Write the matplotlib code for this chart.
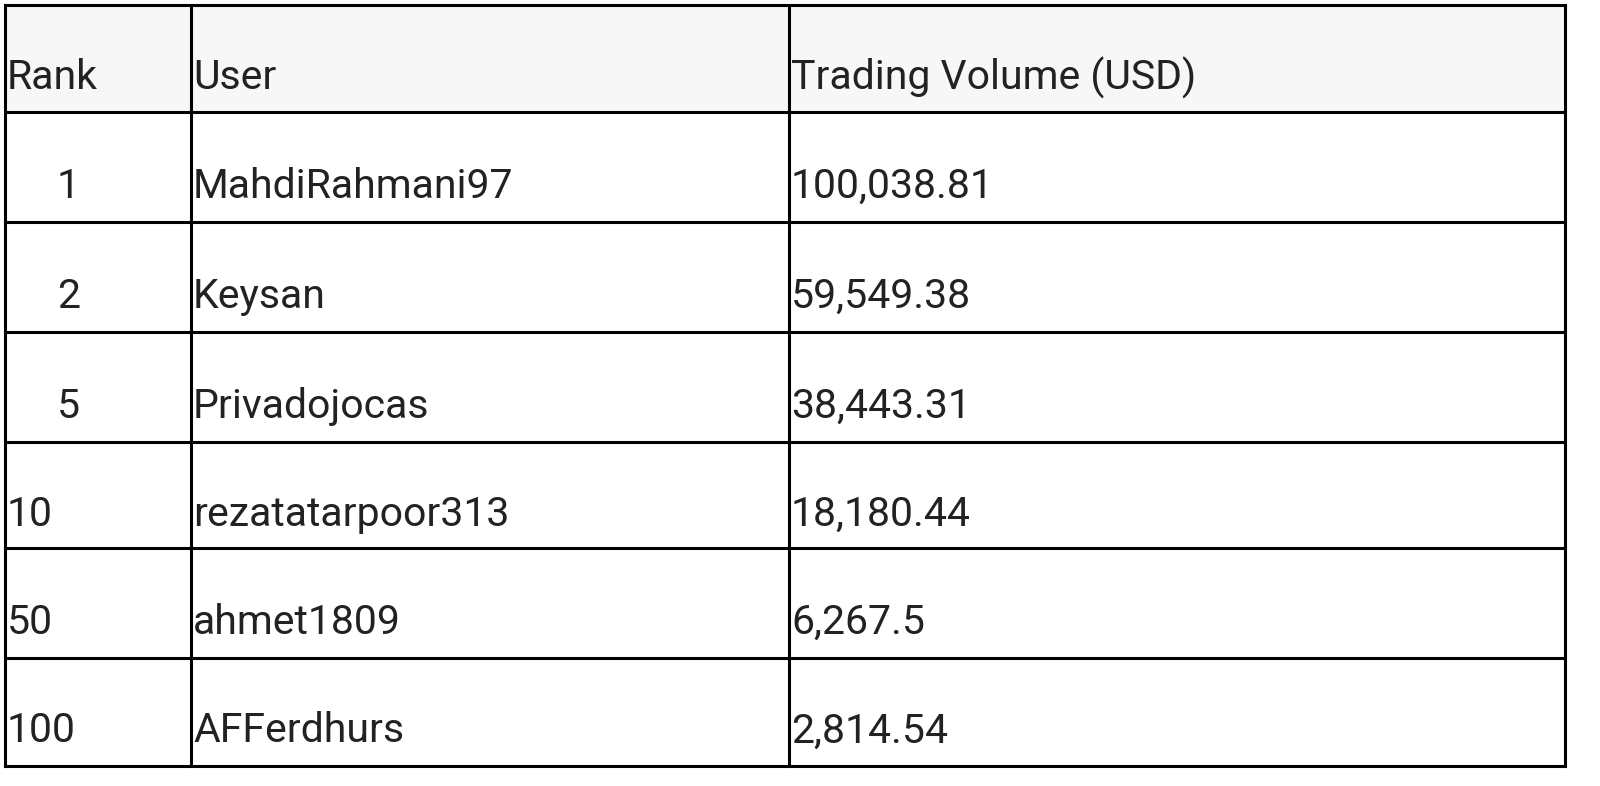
import matplotlib
matplotlib.use("Agg")
import matplotlib.pyplot as plt

headers = ["Rank", "User", "Trading Volume (USD)"]
ranks = ["1", "2", "5", "10", "50", "100"]
users = ["MahdiRahmani97", "Keysan", "Privadojocas", "rezatatarpoor313", "ahmet1809", "AFFerdhurs"]
volumes = ["100,038.81", "59,549.38", "38,443.31", "18,180.44", "6,267.5", "2,814.54"]

W, H = 1600, 786
fig = plt.figure(figsize=(16, 7.86), dpi=100)
ax = fig.add_axes([0, 0, 1, 1])
ax.set_xlim(0, W); ax.set_ylim(H, 0); ax.axis("off")

col_x = [5, 191, 789, 1565]
row_y = [5, 112, 222, 332, 442, 548, 658, 766]
ax.add_patch(plt.Rectangle((5, 5), 1560, 107, color="#f7f7f7", zorder=0))
lw = 2.2
for y in row_y:
    ax.plot([5, 1565], [y, y], color="black", lw=lw)
for x in col_x:
    ax.plot([x, x], [5, 766], color="black", lw=lw)

fs = 29.5
font = dict(fontsize=fs, family=["Roboto", "DejaVu Sans"], color="#222222", va="center", ha="left")

def row_text(i, vals):
    yc = (row_y[i] + row_y[i + 1]) / 2 + 19
    r, u, v = vals
    rx = 57 if len(r) == 1 and i > 0 else 7
    ax.text(rx, yc, r, **font)
    ax.text(193, yc, u, **font)
    ax.text(791, yc, v, **font)

row_text(0, headers)
for i in range(len(ranks)):
    row_text(i + 1, (ranks[i], users[i], volumes[i]))

fig.savefig("out.png", dpi=100)
